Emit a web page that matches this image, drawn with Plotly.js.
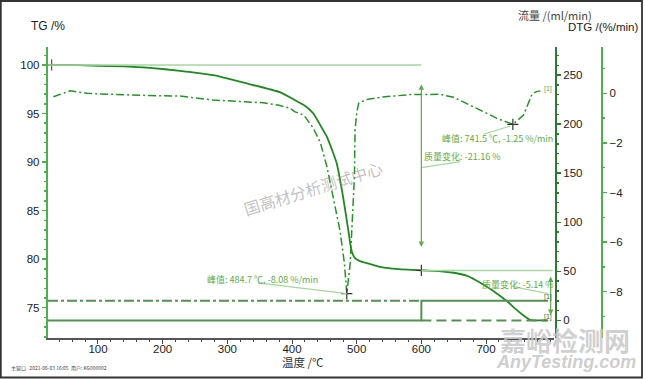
<!DOCTYPE html>
<html><head><meta charset="utf-8">
<script src="https://cdn.plot.ly/plotly-3.0.1.min.js"></script>
<style>html,body{margin:0;padding:0;background:#fff}#chart{width:645px;height:379px}</style>
</head><body><div id="chart"></div>
<script>
// ---------- data ----------
const tgTemperature = [22.7, 60, 100, 140, 180, 227, 278, 330, 381, 404, 420, 433, 448, 454, 469, 479, 487, 492, 497.4, 505, 515.5, 536, 560, 600, 630, 650, 670, 685, 700, 716, 732, 745, 757, 768, 778, 795];
const tgPercent = [100, 100, 99.92, 99.85, 99.7, 99.4, 98.95, 98.1, 97.2, 96.4, 95.8, 95.0, 93.3, 92.6, 89.9, 86.4, 83.0, 80.9, 80.1, 79.8, 79.6, 79.2, 79.0, 78.84, 78.75, 78.6, 78.3, 77.8, 77.2, 76.5, 75.7, 74.9, 74.25, 73.75, 73.7, 73.7];

const dtgTemperature = [31, 45, 57, 70, 83, 100, 119, 150, 180, 227, 278, 320, 356, 380, 397, 404, 418, 433, 444, 454, 464, 474, 481, 484.7, 490, 495, 496.5, 497.5, 500, 503, 515, 540, 582, 600, 629, 650, 670, 696, 717, 741.5, 758, 765, 771, 778, 784];
const dtgRate = [-0.14, -0.02, 0.1, 0.05, 0, -0.02, -0.04, -0.07, -0.09, -0.11, -0.27, -0.33, -0.38, -0.48, -0.6, -0.74, -0.87, -1.41, -2.0, -2.96, -4.17, -5.51, -6.85, -8.08, -6.84, -4.17, -3.36, -1.48, -0.8, -0.4, -0.25, -0.15, -0.05, -0.05, -0.04, -0.16, -0.4, -0.74, -1.01, -1.25, -0.88, -0.4, -0.04, 0.07, 0.1];

const flowATemperature = [22.7, 600, 600, 796];
const flowA = [0, 0, 20, 20];
const flowBTemperature = [22.7, 600];
const flowB = [20, 20];
const flowCTemperature = [600, 796];
const flowC = [0, 0];

const peakTemperature = [484.7, 741.5];
const peakRate = [-8.08, -1.25];
const stepTemperature = [600];
const stepTG = [78.84];
const massChange = [-21.16, -5.14];
const startTemperature = [28.4];
const startTG = [100];

const xTickValues = [100, 200, 300, 400, 500, 600, 700];
const tgTickValues = [75, 80, 85, 90, 95, 100];
const flowTickValues = [0, 50, 100, 150, 200, 250];
const dtgTickValues = [-8, -6, -4, -2, 0];

// ---------- layout helpers ----------
const W = 645, H = 379;
const px = x => x / W;
const py = y => (H - y) / H;

const FONT = 'Liberation Sans, Arial, Noto Sans CJK SC, sans-serif';
const CJK = 'Noto Sans CJK SC, Liberation Sans, sans-serif';
const TG_COL = 'rgb(34,135,34)';
const DTG_COL = 'rgb(40,145,40)';
const FLOW_COL = 'rgb(85,145,85)';
const LIGHT = 'rgb(165,215,160)';
const ANN = 'rgb(95,170,75)';

const crossMarker = {symbol: 'cross-thin-open', size: 8, color: '#333', line: {color: '#333', width: 1.2}};

const traces = [
  {x: tgTemperature, y: tgPercent, yaxis: 'y', mode: 'lines', line: {color: TG_COL, width: 1.8, shape: 'spline', smoothing: 0.5}, hoverinfo: 'skip'},
  {x: dtgTemperature, y: dtgRate, yaxis: 'y3', mode: 'lines', line: {color: DTG_COL, width: 1.5, dash: '8px,3px,2px,3px'}, hoverinfo: 'skip'},
  {x: flowATemperature, y: flowA, yaxis: 'y2', mode: 'lines', line: {color: FLOW_COL, width: 2}, hoverinfo: 'skip'},
  {x: flowBTemperature, y: flowB, yaxis: 'y2', mode: 'lines', line: {color: FLOW_COL, width: 2, dash: '10px,3px,3px,3px'}, hoverinfo: 'skip'},
  {x: flowCTemperature, y: flowC, yaxis: 'y2', mode: 'lines', line: {color: FLOW_COL, width: 2, dash: '10px,5px'}, hoverinfo: 'skip'},
  {x: peakTemperature, y: peakRate, yaxis: 'y3', mode: 'markers', marker: crossMarker, hoverinfo: 'skip'},
  {x: stepTemperature, y: stepTG, yaxis: 'y', mode: 'markers', marker: crossMarker, hoverinfo: 'skip'},
  {x: startTemperature, y: startTG, yaxis: 'y', mode: 'markers', marker: {symbol: 'line-ns-open', size: 8, color: '#333', line: {color: '#333', width: 1}}, hoverinfo: 'skip'}
];

const axisFont = {family: FONT, size: 11.5, color: '#222'};

const layout = {
  width: W, height: H,
  margin: {l: 0, r: 0, t: 0, b: 0},
  paper_bgcolor: '#fff', plot_bgcolor: '#fff',
  showlegend: false,
  xaxis: {
    domain: [px(48), px(554)], range: [22.7, 805.1], anchor: 'y',
    tickvals: xTickValues, ticks: 'outside', ticklen: 4, tickcolor: '#444', tickwidth: 1,
    ticklabelstandoff: -4,
    minor: {dtick: 20, tick0: 0, ticks: 'outside', ticklen: 2, tickcolor: '#444'},
    showline: true, linecolor: '#555', linewidth: 1.5, showgrid: false, zeroline: false,
    tickfont: axisFont
  },
  yaxis: {
    domain: [py(338), py(47)], range: [71.88, 101.85], anchor: 'x',
    tickvals: tgTickValues, ticks: 'outside', ticklen: 4, tickcolor: 'rgb(76,175,80)', tickwidth: 1.5,
    minor: {dtick: 1, tick0: 0, ticks: 'outside', ticklen: 2, tickcolor: 'rgb(76,175,80)'},
    showline: true, linecolor: 'rgb(76,175,80)', linewidth: 2.2, showgrid: false, zeroline: false,
    tickfont: axisFont
  },
  yaxis2: {
    overlaying: 'y', side: 'right', anchor: 'free', position: px(556),
    range: [-17.9, 278.6], tickvals: flowTickValues,
    ticks: 'outside', ticklen: 4, tickcolor: 'rgb(46,120,50)', tickwidth: 1.5,
    minor: {dtick: 10, tick0: 0, ticks: 'outside', ticklen: 2, tickcolor: 'rgb(46,120,50)'},
    showline: true, linecolor: 'rgb(46,120,50)', linewidth: 2, showgrid: false, zeroline: false,
    tickfont: axisFont
  },
  yaxis3: {
    overlaying: 'y', side: 'right', anchor: 'free', position: px(602),
    range: [-9.87, 1.87], tickvals: dtgTickValues,
    ticks: 'outside', ticklen: 4, tickcolor: 'rgb(76,175,80)', tickwidth: 1.5,
    minor: {dtick: 1, tick0: 0, ticks: 'outside', ticklen: 2, tickcolor: 'rgb(76,175,80)'},
    showline: true, linecolor: 'rgb(76,175,80)', linewidth: 2.2, showgrid: false, zeroline: false,
    tickfont: axisFont
  },
  shapes: [
    {type: 'line', xref: 'x', yref: 'y', x0: tgTemperature[0], x1: stepTemperature[0], y0: tgPercent[0], y1: tgPercent[0], line: {color: LIGHT, width: 1.5}},
    {type: 'line', xref: 'x', yref: 'y', x0: stepTemperature[0], x1: 803, y0: stepTG[0], y1: stepTG[0], line: {color: LIGHT, width: 1.5}},
    {type: 'line', xref: 'x', yref: 'y3', x0: 347.5, y0: -7.65, x1: peakTemperature[0], y1: peakRate[0], line: {color: LIGHT, width: 1.3}},
    {type: 'line', xref: 'x', yref: 'y3', x0: 695.8, y0: -1.65, x1: 737.5, y1: -1.32, line: {color: LIGHT, width: 1.3}},
    {type: 'line', xref: 'x', yref: 'y', x0: stepTemperature[0], y0: 89.42, x1: 660, y1: 90.04, line: {color: LIGHT, width: 1.3}},
    {type: 'line', xref: 'x', yref: 'y', x0: 741.8, y0: 77.17, x1: 796, y1: 76.45, line: {color: LIGHT, width: 1.3}},
    {type: 'rect', xref: 'paper', yref: 'paper', x0: px(0.8), x1: px(642), y0: py(377.5), y1: py(1), line: {color: '#333', width: 1.8}}
  ],
  annotations: [
    {xref: 'paper', yref: 'paper', x: px(29), y: py(26), xanchor: 'left', yanchor: 'middle', text: 'TG /%', showarrow: false, font: {family: FONT, size: 12, color: '#222'}},
    {xref: 'paper', yref: 'paper', x: px(516), y: py(15), xanchor: 'left', yanchor: 'middle', text: '流量 /(ml/min)', showarrow: false, font: {family: CJK, size: 11, color: '#444'}},
    {xref: 'paper', yref: 'paper', x: px(566), y: py(27), xanchor: 'left', yanchor: 'middle', text: 'DTG /(%/min)', showarrow: false, font: {family: FONT, size: 11.5, color: '#222'}},
    {xref: 'paper', yref: 'paper', x: px(280), y: py(362), xanchor: 'left', yanchor: 'middle', text: '温度 /℃', showarrow: false, font: {family: CJK, size: 11.5, color: '#333'}},
    {xref: 'paper', yref: 'paper', x: px(205), y: py(279), xanchor: 'left', yanchor: 'middle', showarrow: false,
      text: `峰值: ${peakTemperature[0]} ℃, ${peakRate[0].toFixed(2)} %/min`, font: {family: CJK, size: 9, color: ANN}},
    {xref: 'paper', yref: 'paper', x: px(440), y: py(138), xanchor: 'left', yanchor: 'middle', showarrow: false,
      text: `峰值: ${peakTemperature[1]} ℃, ${peakRate[1].toFixed(2)} %/min`, font: {family: CJK, size: 9, color: ANN}},
    {xref: 'paper', yref: 'paper', x: px(422), y: py(157), xanchor: 'left', yanchor: 'middle', showarrow: false,
      text: `质量变化: ${massChange[0].toFixed(2)} %`, font: {family: CJK, size: 9, color: ANN}},
    {xref: 'paper', yref: 'paper', x: px(480), y: py(284), xanchor: 'left', yanchor: 'middle', showarrow: false,
      text: `质量变化: ${massChange[1].toFixed(2)} %`, font: {family: CJK, size: 9, color: ANN}},
    {xref: 'x', yref: 'y', axref: 'x', ayref: 'y', x: stepTemperature[0], y: 81.26, ax: stepTemperature[0], ay: 98.15, text: '', showarrow: true,
      arrowhead: 2, startarrowhead: 2, arrowside: 'end+start', arrowsize: 0.9, startarrowsize: 0.9, arrowwidth: 1.2, arrowcolor: ANN},
    {xref: 'x', yref: 'y', axref: 'x', ayref: 'y', x: 800, y: 74.25, ax: 800, ay: 78.37, text: '', showarrow: true,
      arrowhead: 2, startarrowhead: 2, arrowside: 'end+start', arrowsize: 0.9, startarrowsize: 0.9, arrowwidth: 1.2, arrowcolor: ANN},
    {xref: 'paper', yref: 'paper', x: px(542), y: py(89), xanchor: 'left', yanchor: 'middle', text: '[1]', showarrow: false, font: {family: FONT, size: 7, color: ANN}},
    {xref: 'paper', yref: 'paper', x: px(542), y: py(297), xanchor: 'left', yanchor: 'middle', text: '[1]', showarrow: false, font: {family: FONT, size: 7, color: '#3a6a3a'}},
    {xref: 'paper', yref: 'paper', x: px(542), y: py(316.5), xanchor: 'left', yanchor: 'middle', text: '[1]', showarrow: false, font: {family: FONT, size: 7, color: '#3a6a3a'}},
    {xref: 'paper', yref: 'paper', x: px(313), y: py(188), xanchor: 'center', yanchor: 'middle', text: '国高材分析测试中心', textangle: -17, showarrow: false,
      font: {family: CJK, size: 16, color: 'rgba(140,140,140,0.55)'}},
    {xref: 'paper', yref: 'paper', x: px(565), y: py(339), xanchor: 'center', yanchor: 'middle', text: '嘉峪检测网', showarrow: false,
      font: {family: CJK, size: 26, color: 'rgba(200,200,200,0.85)', weight: 700}},
    {xref: 'paper', yref: 'paper', x: px(566), y: py(362), xanchor: 'center', yanchor: 'middle', text: 'AnyTesting.com', showarrow: false,
      font: {family: FONT, size: 18, color: 'rgba(200,200,200,0.9)', style: 'italic', weight: 700}},
    {xref: 'paper', yref: 'paper', x: px(9), y: py(367.5), xanchor: 'left', yanchor: 'middle', showarrow: false,
      text: '主窗口\u00a0\u00a0\u00a02021-06-03 16:05\u00a0\u00a0用户: KG000002', font: {family: CJK, size: 5, color: '#444'}}
  ]
};

Plotly.newPlot('chart', traces, layout, {staticPlot: true, displayModeBar: false});
</script>
</body></html>
